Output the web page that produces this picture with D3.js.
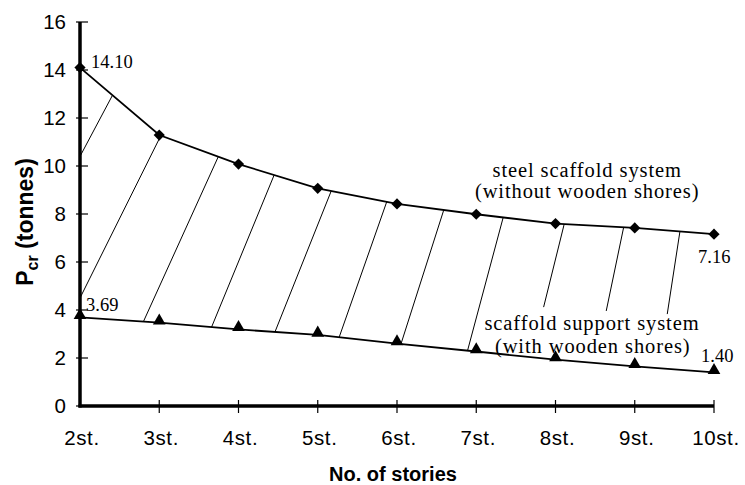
<!DOCTYPE html>
<html>
<head>
<meta charset="utf-8">
<script src="https://cdn.jsdelivr.net/npm/d3@7"></script>
<style>
  body { margin: 0; background: #fff; }
  svg { display: block; }
</style>
</head>
<body>
<div id="chart"></div>
<script>
// stories (x) and critical loads (tonnes)
const stories = [2, 3, 4, 5, 6, 7, 8, 9, 10];
const storyLabels = ["2st.", "3st.", "4st.", "5st.", "6st.", "7st.", "8st.", "9st.", "10st."];
const steelValues = [14.10, 11.29, 10.08, 9.07, 8.42, 7.99, 7.60, 7.42, 7.16];
const supportValues = [3.69, 3.47, 3.19, 2.96, 2.60, 2.27, 1.93, 1.65, 1.40];
const yTicks = [0, 2, 4, 6, 8, 10, 12, 14, 16];

// hatch lines between the two curves: [story at top end, story at bottom end, bottom load if not on curve]
const hatches = [
    [2.41, 2.00, 10.4],
    [3.02, 2.00, 4.5],
    [3.745, 2.80, null],
    [4.45, 3.66, null],
    [5.17, 4.46, null],
    [5.87, 5.27, null],
    [6.59, 6.05, null],
    [7.34, 6.89, null],
    [8.11, 7.85, 4.12],
    [8.86, 8.64, 3.96],
    [9.57, 9.41, 3.83]
];

const width = 745, height = 485;
const sans = "Liberation Sans, Arial, sans-serif";
const serif = "Liberation Serif, Times New Roman, serif";

const svg = d3.select("#chart").append("svg")
    .attr("width", width)
    .attr("height", height);

const x = d3.scaleLinear().domain([2, 10]).range([80, 714]);
const y = d3.scaleLinear().domain([0, 16]).range([406, 22]);

const interp = (vals, s) => d3.scaleLinear().domain(stories).range(vals)(s);

// hatching
svg.append("g")
    .attr("stroke", "#000")
    .attr("stroke-width", 1)
    .selectAll("line")
    .data(hatches)
    .enter().append("line")
    .attr("x1", d => x(d[0]))
    .attr("y1", d => y(interp(steelValues, d[0])))
    .attr("x2", d => x(d[1]))
    .attr("y2", d => y(d[2] != null ? d[2] : interp(supportValues, d[1])));

// y axis
const yAxis = svg.append("g");
yAxis.selectAll("line.tick")
    .data(yTicks)
    .enter().append("line")
    .attr("class", "tick")
    .attr("x1", x(2) - 4).attr("x2", x(2) + 8)
    .attr("y1", d => y(d)).attr("y2", d => y(d))
    .attr("stroke", "#000").attr("stroke-width", 1.2);
yAxis.selectAll("text")
    .data(yTicks)
    .enter().append("text")
    .attr("x", 66)
    .attr("y", d => y(d))
    .attr("dy", "0.36em")
    .attr("text-anchor", "end")
    .attr("font-family", sans)
    .attr("font-size", 20.5)
    .text(d => d);

// x axis
const xAxis = svg.append("g");
xAxis.selectAll("line.tick")
    .data(stories.slice(1))
    .enter().append("line")
    .attr("class", "tick")
    .attr("x1", d => x(d)).attr("x2", d => x(d))
    .attr("y1", y(0) - 6).attr("y2", y(0) + 7)
    .attr("stroke", "#000").attr("stroke-width", 1.2);
xAxis.selectAll("text")
    .data(stories)
    .enter().append("text")
    .attr("x", d => x(d) + 2)
    .attr("y", 445)
    .attr("text-anchor", "middle")
    .attr("font-family", sans)
    .attr("font-size", 20.5)
    .attr("letter-spacing", 0.6)
    .text((d, i) => storyLabels[i]);

svg.append("line")
    .attr("x1", x(2)).attr("x2", x(2))
    .attr("y1", y(16)).attr("y2", y(0) + 1.5)
    .attr("stroke", "#000").attr("stroke-width", 3.5);
svg.append("line")
    .attr("x1", x(2) - 1.5).attr("x2", x(10))
    .attr("y1", y(0)).attr("y2", y(0))
    .attr("stroke", "#000").attr("stroke-width", 3.5);

// series lines
const line = d3.line().x((d, i) => x(stories[i])).y(d => y(d));
svg.append("path").datum(steelValues)
    .attr("d", line).attr("fill", "none")
    .attr("stroke", "#000").attr("stroke-width", 1.8);
svg.append("path").datum(supportValues)
    .attr("d", line).attr("fill", "none")
    .attr("stroke", "#000").attr("stroke-width", 1.8);

// markers
svg.append("g").selectAll("path")
    .data(steelValues)
    .enter().append("path")
    .attr("transform", (d, i) => `translate(${x(stories[i])},${y(d)})`)
    .attr("d", d3.symbol(d3.symbolDiamond2, 80)())
    .attr("fill", "#000");
svg.append("g").selectAll("path")
    .data(supportValues)
    .enter().append("path")
    .attr("transform", (d, i) => `translate(${x(stories[i])},${y(d) - 2})`)
    .attr("d", d3.symbol(d3.symbolTriangle, 70)())
    .attr("fill", "#000");

// value labels
const valueLabels = [
    { s: 2, v: steelValues[0], dx: 11, dy: -6, anchor: "start" },
    { s: 2, v: supportValues[0], dx: 6, dy: -12.5, anchor: "start" },
    { s: 10, v: steelValues[8], dx: -16, dy: 22, anchor: "start" },
    { s: 10, v: supportValues[8], dx: -13, dy: -17, anchor: "start" }
];
svg.append("g").selectAll("text")
    .data(valueLabels)
    .enter().append("text")
    .attr("x", d => x(d.s) + d.dx)
    .attr("y", d => y(d.v) + d.dy)
    .attr("dy", "0.35em")
    .attr("text-anchor", d => d.anchor)
    .attr("font-family", serif)
    .attr("font-size", 18.5)
    .text(d => d.v.toFixed(2));

// series labels
const seriesLabels = [
    { text: "steel scaffold system", s: 8.40, v: 9.85 },
    { text: "(without wooden shores)", s: 8.40, v: 8.95 },
    { text: "scaffold support system", s: 8.46, v: 3.47 },
    { text: "(with wooden shores)", s: 8.47, v: 2.5 }
];
svg.append("g").selectAll("text")
    .data(seriesLabels)
    .enter().append("text")
    .attr("x", d => x(d.s))
    .attr("y", d => y(d.v))
    .attr("dy", "0.35em")
    .attr("text-anchor", "middle")
    .attr("font-family", serif)
    .attr("font-size", 20.5)
    .attr("letter-spacing", 0.9)
    .text(d => d.text);

// axis titles
svg.append("text")
    .attr("x", 393)
    .attr("y", 481)
    .attr("text-anchor", "middle")
    .attr("font-family", sans)
    .attr("font-weight", "bold")
    .attr("font-size", 20)
    .text("No. of stories");

const yTitle = svg.append("text")
    .attr("transform", "translate(33,222) rotate(-90)")
    .attr("text-anchor", "middle")
    .attr("font-family", sans)
    .attr("font-weight", "bold")
    .attr("font-size", 23);
yTitle.append("tspan").text("P");
yTitle.append("tspan").attr("font-size", 16).attr("dy", 5).text("cr");
yTitle.append("tspan").attr("dy", -5).text(" (tonnes)");
</script>
</body>
</html>
